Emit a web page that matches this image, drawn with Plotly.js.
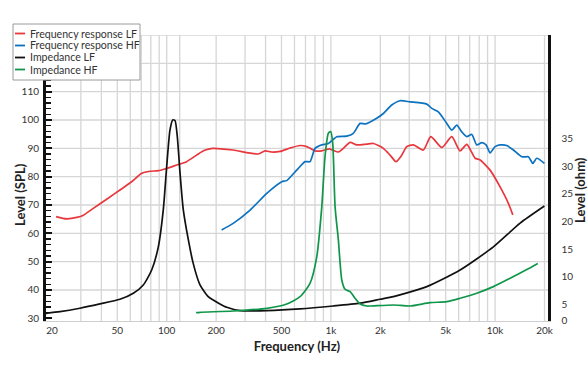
<!DOCTYPE html>
<html>
<head>
<meta charset="utf-8">
<script src="https://cdn.plot.ly/plotly-3.0.1.min.js"></script>
<style>html,body{margin:0;padding:0;background:#fff}#chart{width:588px;height:372px}</style>
</head>
<body>
<div id="chart"></div>
<script>
// ---- data ----
var lfRespFreq = [21.2,24.6,28.3,31.1,35.7,43.1,51.9,61.2,70.5,79.1,88.9,100,115,132,152,170,190,254,361,397,436,490,564,649,713,801,880,979,1110,1191,1309,1437,1654,1814,2087,2293,2494,2701,2897,3180,3658,4058,4735,5448,6120,6724,7553,8100,9322,10725,12050,12816];
var lfRespDb   = [65.9,65.1,65.6,66.4,68.8,72.0,75.3,78.2,81.2,81.9,82.1,82.9,84.1,85.3,87.6,89.3,90.0,89.4,88.0,89.1,88.7,88.9,90.1,91.0,90.6,89.1,89.1,89.8,88.7,90.0,92.1,91.2,91.5,91.7,90.0,87.6,85.3,87.6,90.6,91.2,89.4,94.1,90.3,94.1,89.1,91.4,86.5,85.9,82.3,76.4,70.6,66.5];

var hfRespFreq = [216,254,322,407,502,538,619,696,746,801,880,965,1086,1249,1370,1506,1627,1900,2087,2348,2638,3035,3837,4115,4513,5080,5448,5842,6266,6724,7211,7735,8298,8814,9322,10000,10725,11780,12928,14545,15952,16970,17950,19970];
var hfRespDb   = [61.2,63.5,68.2,74.1,78.2,78.6,82.3,85.3,85.3,90.0,91.2,91.7,94.1,94.3,95.3,98.8,98.6,100.6,102.3,105.3,106.8,106.4,105.6,104.1,102.9,98.8,96.4,98.2,95.8,94.1,94.9,91.2,92.0,91.2,88.4,90.6,91.2,91.0,89.4,87.0,87.0,84.7,86.5,84.7];

var lfImpFreq = [18.4,22.4,29.6,39.2,51.9,62.6,72.0,81.0,88.9,95.3,100,104.7,108.8,112.3,116,120.5,126.2,135.4,145,159.5,179,192,211,232,280,407,649,1035,1506,1993,2402,3837,6120,9763,14205,19970];
var lfImpOhm  = [3.36,3.65,4.27,5.05,5.90,6.99,8.49,11.2,15.4,22.1,30.0,36.6,38.4,38.3,35.4,28.8,22.1,16.7,12.4,8.5,6.37,5.77,5.05,4.44,3.83,3.83,4.14,4.68,5.2,5.90,6.37,8.19,11.2,15.4,19.7,22.8];

var hfImpFreq = [151,159.5,254,407,538,649,746,820,880,921,965,998,1026,1060,1110,1165,1220,1309,1403,1506,1654,1732,2402,3035,4018,5080,6120,7735,9763,12340,15600,18200];
var hfImpOhm  = [3.47,3.54,3.77,4.26,5.05,6.37,8.80,13.6,22.7,31.8,36.0,36.3,34.2,22.7,16.7,9.40,7.71,7.28,6.08,5.05,4.68,4.68,4.86,4.68,5.28,5.46,6.08,6.99,8.19,9.71,11.3,12.4];

var seriesNames = ['Frequency response LF','Frequency response HF','Impedance LF','Impedance HF'];
var seriesColors = ['#e8373d','#0c72c0','#111111','#10964a'];

var xTickVals = [20,50,100,200,500,1000,2000,5000,10000,20000];
var xTickText = ['20','50','100','200','500','1k','2k','5k','10k','20k'];
var gridFreqs = [30,40,50,60,70,80,90,100,120,200,300,400,500,600,700,800,900,1000,2000,3000,4000,5000,6000,7000,8000,9000,10000,20000];
var splTicks = [30,40,50,60,70,80,90,100,110];
var splGrid = [40,50,60,70,80,90,100,110,120,130];
var ohmTickVals = [2.0,5,10,15,20,25,30,35];
var ohmTickText = ['0','5','10','15','20','25','30','35'];
var xTitle = 'Frequency (Hz)', yTitle = 'Level (SPL)', y2Title = 'Level (ohm)';

var FONT = 'Lato, "Open Sans", sans-serif';

function mk(i, xs, ys, yax){
  return {x: xs, y: ys, name: seriesNames[i], type:'scatter', mode:'lines', yaxis: yax,
          line:{color: seriesColors[i], width:1.7, shape:'spline', smoothing:0.6}};
}
var traces = [
  mk(0, lfRespFreq, lfRespDb, 'y'),
  mk(1, hfRespFreq, hfRespDb, 'y'),
  mk(2, lfImpFreq, lfImpOhm, 'y2'),
  mk(3, hfImpFreq, hfImpOhm, 'y2')
];

var shapes = [];
gridFreqs.forEach(function(f){
  shapes.push({type:'line', xref:'x', yref:'paper', x0:f, x1:f, y0:0, y1:1, layer:'below',
               line:{color:'#d6d6d6', width:1.3}});
});
splGrid.forEach(function(v){
  shapes.push({type:'line', xref:'paper', yref:'y', x0:0, x1:1, y0:v, y1:v, layer:'below',
               line:{color:'#d6d6d6', width:1.3}});
});

// ---- compact legend box (shapes + text) and side titles placed like the reference ----
var PL = 46, PR = 548, PT = 35, PB = 321;
function px2x(p){ return (p - PL) / (PR - PL); }
function py2y(p){ return (PB - p) / (PB - PT); }
var annotations = [];
shapes.push({type:'rect', xref:'paper', yref:'paper', x0:px2x(13), x1:px2x(140), y0:py2y(80), y1:py2y(24),
             fillcolor:'#fff', line:{color:'#9a9a9a', width:1}, layer:'above'});
var rowY = [33.5, 45.5, 57.5, 69.5];
seriesNames.forEach(function(n, i){
  shapes.push({type:'line', xref:'paper', yref:'paper', x0:px2x(15), x1:px2x(25), y0:py2y(rowY[i]), y1:py2y(rowY[i]),
               line:{color:seriesColors[i], width:1.8}, layer:'above'});
  annotations.push({xref:'paper', yref:'paper', x:px2x(28), y:py2y(rowY[i]), xanchor:'left', yanchor:'middle',
                    text:n, showarrow:false, font:{family:FONT, size:10.6, color:'#333'}});
});
var titleFont = {family:FONT, size:13, color:'#222', weight:700};
annotations.push({xref:'paper', yref:'paper', x:px2x(20), y:py2y(195), xanchor:'center', yanchor:'middle',
                  text:yTitle, textangle:-90, showarrow:false, font:titleFont});
annotations.push({xref:'paper', yref:'paper', x:px2x(580), y:py2y(190), xanchor:'center', yanchor:'middle',
                  text:y2Title, textangle:-90, showarrow:false, font:titleFont});

var layout = {
  width:588, height:372,
  margin:{l:46, r:40, t:35, b:51, pad:0},
  paper_bgcolor:'#fff', plot_bgcolor:'#fff',
  font:{family:FONT, size:10, color:'#333'},
  showlegend:false,
  xaxis:{type:'log', range:[Math.log10(18.4), Math.log10(21000)], tickmode:'array',
         tickvals:xTickVals, ticktext:xTickText, showgrid:false, zeroline:false,
         ticks:'', showline:true, linecolor:'#cfcfcf', linewidth:1.3,
         tickfont:{family:FONT, size:10, color:'#333'},
         title:{text:xTitle, font:titleFont, standoff:6}},
  yaxis:{range:[29.05,130], tickmode:'array', tickvals:splTicks, showgrid:false, zeroline:false,
         showline:true, linecolor:'#111', linewidth:3, ticks:'inside', ticklen:6, tickwidth:2, tickcolor:'#111',
         minor:{tick0:30, dtick:2, ticks:'inside', ticklen:5, tickwidth:1.5, tickcolor:'#111', showgrid:false},
         tickfont:{family:FONT, size:10, color:'#333'}, ticklabelstandoff:2},
  yaxis2:{overlaying:'y', side:'right', range:[1.96,53.8], tickmode:'array', tickvals:ohmTickVals,
          ticktext:ohmTickText, showgrid:false, zeroline:false, showline:true, linecolor:'#111',
          linewidth:2.5, ticks:'', tickfont:{family:FONT, size:10, color:'#333'}, ticklabelstandoff:9},
  shapes: shapes,
  annotations: annotations
};

Plotly.newPlot('chart', traces, layout, {displayModeBar:false, staticPlot:true});
</script>
</body>
</html>
